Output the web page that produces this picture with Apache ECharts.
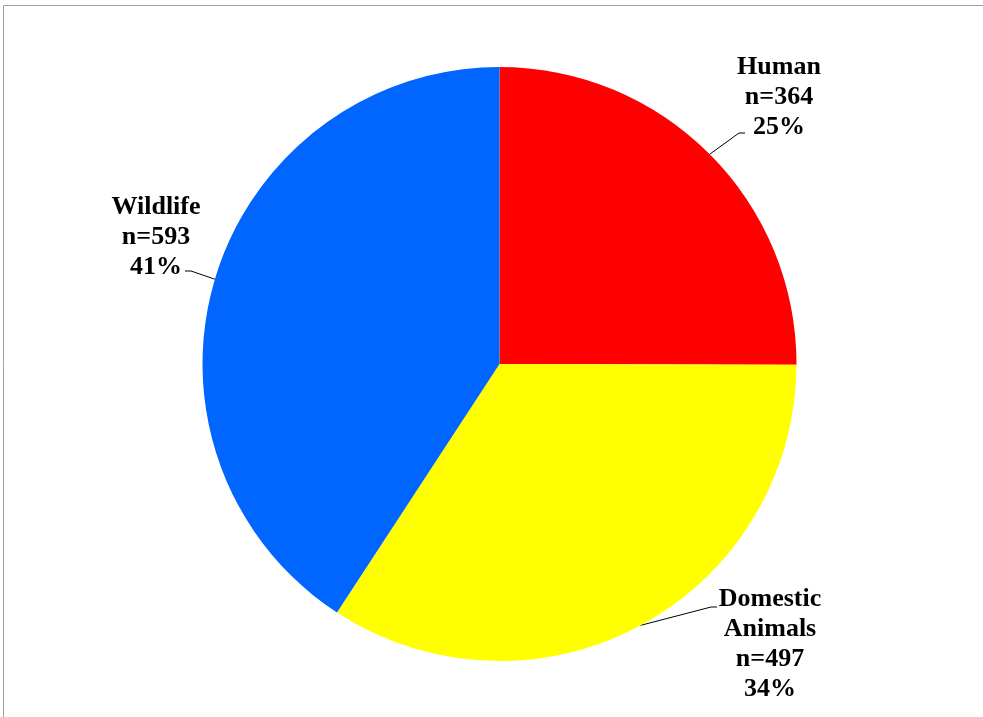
<!DOCTYPE html>
<html>
<head>
<meta charset="utf-8">
<script src="https://cdn.jsdelivr.net/npm/echarts@6/dist/echarts.min.js"></script>
<style>
  html, body { margin: 0; padding: 0; background: #ffffff; }
  #chart { width: 983px; height: 717px; }
</style>
</head>
<body>
<div id="chart"></div>
<script>
// Source categories and case counts
const categories = ['Human', 'Domestic\nAnimals', 'Wildlife'];
const counts = [364, 497, 593];
const sliceColors = ['#ff0000', '#ffff00', '#0066ff'];

// Label block centres and leader-line end offsets (relative to the label centre)
const labelSpots = [
  { x: 779, y: 97, end: [-34, 36] },
  { x: 770, y: 644, end: [-53, -37] },
  { x: 156, y: 237, end: [29, 34] }
];

const total = counts.reduce((a, b) => a + b, 0);
const pieData = categories.map((name, i) => ({
  name: name,
  value: counts[i],
  itemStyle: { color: sliceColors[i] }
}));

const chart = echarts.init(document.getElementById('chart'), null, { renderer: 'canvas' });

chart.setOption({
  backgroundColor: '#ffffff',
  animation: false,
  graphic: [{
    type: 'rect',
    shape: { x: 3.5, y: 5.5, width: 1100, height: 900 },
    style: { fill: 'none', stroke: '#a0a0a0', lineWidth: 1 },
    silent: true
  }],
  series: [{
    type: 'pie',
    center: [499.5, 364],
    radius: [0, 297],
    startAngle: 90,
    clockwise: true,
    avoidLabelOverlap: false,
    data: pieData,
    label: {
      show: true,
      position: 'outside',
      formatter: p => p.name + '\nn=' + p.value + '\n' + Math.round(p.value / total * 100) + '%',
      fontFamily: '"Liberation Serif", "Times New Roman", serif',
      fontWeight: 'bold',
      fontSize: 26,
      lineHeight: 30,
      color: '#000000',
      align: 'center'
    },
    labelLine: {
      show: true,
      length: 30,
      length2: 6,
      lineStyle: { color: '#000000', width: 1 }
    },
    labelLayout: function (params) {
      const spot = labelSpots[params.dataIndex];
      const start = params.labelLinePoints[0];
      const end = [spot.x + spot.end[0], spot.y + spot.end[1]];
      const dir = end[0] > start[0] ? 1 : -1;
      const knee = [end[0] - dir * 6, end[1]];
      return {
        x: spot.x,
        y: spot.y,
        align: 'center',
        verticalAlign: 'middle',
        labelLinePoints: [start, knee, end]
      };
    },
    emphasis: { disabled: true }
  }]
});
</script>
</body>
</html>
